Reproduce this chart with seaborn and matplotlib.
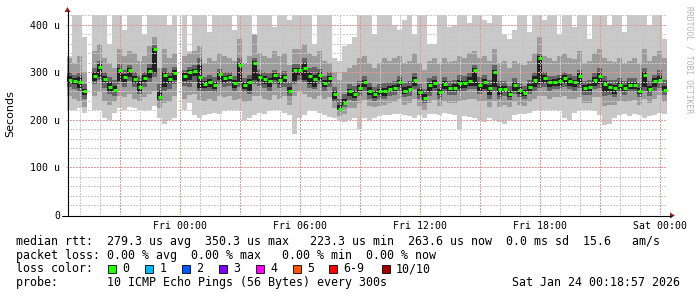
import numpy as np
import pandas as pd
import matplotlib
matplotlib.use("Agg")
import matplotlib.pyplot as plt
import seaborn as sns
from matplotlib.lines import Line2D
from matplotlib.patches import Polygon, Rectangle
from matplotlib.ticker import FixedLocator, FuncFormatter

nan = np.nan

# ---------------- data (microseconds, one sample per 15 min) ----------------
START_H = -5.65   # hours relative to Fri 00:00
STEP_H = 0.25

med = [285, 283, 280, 260, nan, 293, 312, 287, 270, 263,
       305, 290, 305, 287, 270, 288, 303, 350, 248, 295,
       287, 299, nan, 292, 300, 303, 290, 275, 280, 273,
       296, 288, 290, 277, 315, 273, 280, 320, 291, 287,
       282, 294, 285, 290, 262, 305, 306, 310, 292, 287,
       295, 278, 288, 254, 224, 236, 261, 255, 268, 281,
       262, 254, 260, 260, 266, 268, 280, 262, 266, 285,
       259, 247, 273, 278, 259, 276, 267, 268, 278, 277,
       283, 305, 274, 279, 267, 300, 266, 266, 255, 274,
       264, 257, 270, 285, 330, 288, 279, 280, 282, 289,
       283, 279, 293, 268, 270, 285, 292, 275, 270, 268,
       273, 268, 274, 274, 262, 295, 266, 282, 285, 264]

lo4 = [278, 275, 268, 252, nan, 283, 290, 280, 262, 258,
       282, 280, 290, 278, 262, 280, 288, 298, 244, 270,
       278, 285, nan, 282, 285, 292, 268, 268, 270, 266,
       285, 278, 282, 268, 280, 265, 262, 285, 282, 276,
       270, 284, 276, 280, 256, 282, 295, 285, 275, 270,
       285, 270, 278, 245, 222, 232, 250, 246, 258, 270,
       252, 246, 252, 250, 258, 260, 270, 255, 258, 272,
       252, 242, 258, 268, 252, 266, 260, 260, 266, 268,
       272, 272, 262, 266, 252, 270, 252, 258, 248, 262,
       255, 250, 262, 270, 275, 278, 270, 272, 272, 278,
       272, 270, 275, 260, 260, 272, 275, 258, 260, 255,
       265, 260, 266, 265, 255, 270, 258, 270, 278, 258]

hi4 = [292, 288, 290, 266, nan, 300, 318, 292, 280, 272,
       310, 296, 310, 292, 282, 294, 310, 352, 262, 300,
       292, 305, nan, 298, 305, 308, 315, 282, 286, 280,
       300, 292, 295, 284, 320, 280, 286, 325, 296, 292,
       288, 298, 290, 295, 270, 310, 310, 320, 300, 295,
       300, 284, 292, 262, 232, 245, 266, 262, 274, 285,
       270, 260, 266, 268, 272, 274, 285, 270, 272, 290,
       266, 255, 278, 284, 266, 282, 272, 276, 284, 282,
       290, 310, 280, 286, 274, 306, 272, 272, 262, 280,
       270, 264, 276, 292, 335, 294, 284, 286, 288, 294,
       288, 284, 298, 274, 276, 290, 298, 282, 276, 274,
       280, 274, 280, 280, 268, 300, 272, 288, 292, 272]

lo3 = [270, 265, 262, 245, nan, 275, 285, 268, 255, 250,
       275, 270, 282, 270, 255, 270, 280, 290, 240, 262,
       265, 275, nan, 272, 270, 280, 262, 258, 262, 258,
       275, 270, 272, 262, 270, 258, 255, 275, 272, 268,
       262, 275, 268, 270, 250, 275, 285, 280, 268, 265,
       275, 262, 270, 238, 218, 228, 242, 240, 250, 262,
       245, 240, 245, 245, 250, 252, 262, 248, 250, 265,
       245, 235, 250, 260, 245, 258, 252, 252, 258, 260,
       265, 265, 255, 258, 245, 262, 245, 250, 242, 255,
       248, 245, 255, 262, 268, 270, 262, 265, 265, 270,
       265, 262, 268, 252, 252, 265, 268, 250, 252, 248,
       258, 252, 258, 258, 248, 262, 250, 262, 268, 252]

hi3 = [300, 295, 298, 275, nan, 310, 325, 300, 290, 285,
       318, 305, 315, 300, 292, 302, 318, 358, 275, 310,
       300, 312, nan, 305, 312, 315, 330, 290, 295, 290,
       308, 300, 302, 292, 330, 288, 295, 330, 305, 300,
       298, 305, 298, 303, 280, 318, 318, 330, 310, 312,
       308, 292, 300, 270, 245, 255, 275, 272, 282, 292,
       280, 270, 275, 278, 280, 282, 292, 278, 282, 298,
       275, 265, 288, 292, 275, 290, 282, 285, 295, 292,
       298, 315, 290, 295, 285, 315, 282, 282, 272, 288,
       278, 272, 285, 300, 340, 300, 292, 292, 295, 300,
       296, 292, 305, 282, 285, 298, 310, 292, 285, 285,
       288, 282, 288, 288, 278, 310, 282, 295, 305, 285]

lo2 = [250, 245, 240, 228, nan, 250, 258, 240, 232, 238,
       250, 248, 255, 245, 240, 248, 255, 262, 225, 235,
       238, 250, nan, 245, 252, 255, 242, 240, 245, 240,
       250, 248, 250, 242, 245, 238, 240, 250, 250, 245,
       242, 252, 245, 250, 232, 250, 258, 255, 248, 245,
       250, 245, 248, 225, 208, 212, 225, 225, 235, 242,
       230, 228, 230, 232, 235, 238, 245, 232, 235, 245,
       230, 222, 235, 242, 230, 240, 235, 236, 240, 242,
       245, 245, 238, 240, 228, 240, 228, 232, 228, 238,
       232, 230, 238, 245, 250, 250, 245, 248, 248, 250,
       245, 245, 248, 235, 235, 248, 248, 230, 232, 232,
       240, 238, 240, 242, 232, 245, 235, 245, 252, 238]

hi2 = [330, 320, 335, 300, nan, 345, 360, 330, 320, 310,
       350, 335, 345, 340, 325, 335, 355, 375, 310, 350,
       330, 340, nan, 335, 340, 345, 355, 320, 330, 325,
       340, 335, 330, 325, 370, 320, 335, 380, 340, 335,
       330, 345, 335, 340, 315, 350, 350, 360, 340, 335,
       345, 325, 320, 300, 285, 300, 310, 315, 330, 335,
       320, 310, 320, 330, 325, 330, 335, 320, 325, 340,
       320, 305, 325, 330, 318, 330, 322, 325, 335, 330,
       340, 345, 330, 335, 325, 350, 320, 325, 310, 325,
       320, 315, 325, 340, 375, 335, 330, 325, 335, 340,
       330, 328, 345, 320, 325, 340, 350, 330, 325, 322,
       330, 320, 325, 330, 318, 350, 325, 335, 345, 330]

lo1 = [220, 222, 225, 215, nan, 222, 220, 205, 200, 215,
       225, 222, 228, 225, 220, 218, 222, 230, 205, 192,
       200, 205, nan, 220, 235, 210, 205, 210, 212, 215,
       213, 218, 220, 222, 220, 200, 205, 210, 215, 213,
       218, 222, 220, 215, 210, 170, 205, 210, 220, 218,
       215, 210, 207, 205, 198, 195, 200, 205, 180, 205,
       200, 205, 208, 210, 210, 212, 213, 210, 208, 205,
       210, 205, 212, 213, 210, 215, 212, 210, 178, 208,
       206, 205, 200, 195, 205, 200, 195, 192, 200, 210,
       213, 212, 215, 218, 220, 222, 222, 220, 218, 205,
       200, 215, 218, 220, 220, 218, 210, 190, 192, 205,
       210, 212, 208, 212, 210, 205, 208, 210, 215, 212]

hi1 = [335, 425, 425, 375, nan, 425, 425, 425, 360, 425,
       425, 390, 425, 425, 425, 380, 425, 425, 425, 425,
       400, 425, nan, 425, 345, 425, 425, 425, 385, 425,
       425, 425, 425, 390, 425, 425, 425, 370, 425, 425,
       425, 395, 425, 425, 410, 425, 425, 425, 425, 360,
       425, 425, 425, 330, 325, 355, 360, 375, 425, 425,
       425, 380, 425, 425, 425, 400, 390, 410, 425, 380,
       425, 425, 360, 360, 425, 425, 395, 400, 425, 425,
       405, 425, 425, 410, 405, 425, 425, 380, 370, 390,
       425, 425, 385, 425, 425, 410, 425, 425, 380, 425,
       425, 395, 425, 425, 370, 425, 425, 425, 400, 425,
       425, 385, 425, 425, 425, 425, 400, 425, 425, 370]

y_ticks = [0, 100, 200, 300, 400]
y_labels = ["0", "100 u", "200 u", "300 u", "400 u"]
x_ticks = [0, 6, 12, 18, 24]
x_labels = ["Fri 00:00", "Fri 06:00", "Fri 12:00", "Fri 18:00", "Sat 00:00"]

loss_labels = ["0", "1", "2", "3", "4", "5", "6-9", "10/10"]
loss_colors = ["#26ff00", "#00b8ff", "#0059ff", "#7e00ff", "#ff00ff",
               "#ff5500", "#ff0000", "#a10000"]

line1 = "median rtt:  279.3 us avg  350.3 us max   223.3 us min  263.6 us now  0.0 ms sd  15.6   am/s"
line2 = "packet loss: 0.00 % avg  0.00 % max   0.00 % min  0.00 % now"
line3 = "loss color:"
line4a = "probe:       10 ICMP Echo Pings (56 Bytes) every 300s"
line4b = "Sat Jan 24 00:18:57 2026"

# ---------------- figure ----------------
sns.set_theme(style="white")
plt.rcParams["font.family"] = ["DejaVu Sans"]
plt.rcParams["lines.scale_dashes"] = False

W, H = 697, 297
PX = 72.0 / 100  # one pixel in points
fig = plt.figure(figsize=(W / 100, H / 100), dpi=100)
fig.patch.set_facecolor("white")
ax = fig.add_axes([67 / W, (H - 215) / H, 600 / W, 200 / H])
ax.set_facecolor("white")

n = len(med)
df = pd.DataFrame({
    "t": START_H + STEP_H * np.arange(n),
    "med": med, "lo1": lo1, "hi1": hi1, "lo2": lo2, "hi2": hi2,
    "lo3": lo3, "hi3": hi3, "lo4": lo4, "hi4": hi4,
})
df["tc"] = df["t"] + STEP_H / 2

for lo, hi, col in [("lo1", "hi1", "#c8c8c8"), ("lo2", "hi2", "#9c9c9c"),
                    ("lo3", "hi3", "#646464"), ("lo4", "hi4", "#202020")]:
    d = df.dropna(subset=[lo, hi])
    ax.bar(d["t"], d[hi] - d[lo], bottom=d[lo], width=STEP_H, align="edge",
           color=col, linewidth=0, antialiased=False, zorder=1)

sns.scatterplot(data=df.dropna(subset=["med"]), x="tc", y="med", marker="_",
                s=11, color="#26ff00", linewidth=2.2, ax=ax, zorder=5,
                legend=False)

ax.set_xlim(START_H, START_H + 30)
ax.set_ylim(0, 421)
for s in ax.spines.values():
    s.set_visible(False)

# grid: small dots drawn over the smoke
ax.yaxis.set_major_locator(FixedLocator(y_ticks))
ax.yaxis.set_minor_locator(FixedLocator(np.arange(0, 421, 20)))
ax.xaxis.set_major_locator(FixedLocator(np.arange(-3, 25, 3)))
ax.xaxis.set_minor_locator(FixedLocator(np.arange(-5, 25, 1)))
ax.set_axisbelow(False)
dots = (0, (1.3 * PX, 1.3 * PX))
ax.grid(which="minor", color="#cccccc", linestyle=dots, linewidth=PX,
        antialiased=False, zorder=3)
ax.grid(which="major", color="#e09a9a", linestyle=dots, linewidth=PX,
        antialiased=False, zorder=3)

ax.set_yticklabels(y_labels)
xl = dict(zip(x_ticks, x_labels))
ax.xaxis.set_major_formatter(FuncFormatter(lambda v, p: xl.get(int(round(v)), "") if abs(v - round(v)) < 1e-6 else ""))
ax.tick_params(axis="both", which="both", length=0)
ax.tick_params(axis="y", pad=5)
ax.tick_params(axis="x", pad=4)
for lab in ax.get_xticklabels() + ax.get_yticklabels():
    lab.set_fontfamily("DejaVu Sans Mono")
    lab.set_fontsize(7.1)
    lab.set_color("black")
ax.set_xlabel("")
ax.set_ylabel("")

def fx(x):
    return x / W

def fy(y):
    return 1 - y / H

# axis lines with arrows
fig.add_artist(Line2D([fx(67.5), fx(67.5)], [fy(215), fy(11)], color="black", lw=0.8))
fig.add_artist(Line2D([fx(62), fx(671)], [fy(215.5), fy(215.5)], color="black", lw=0.8))
fig.add_artist(Polygon([(fx(64.5), fy(12)), (fx(70.5), fy(12)), (fx(67.5), fy(7))],
                       closed=True, color="#9c2020", lw=0))
fig.add_artist(Polygon([(fx(670), fy(212.5)), (fx(670), fy(218.5)), (fx(675), fy(215.5))],
                       closed=True, color="#9c2020", lw=0))

fig.text(fx(10), fy(114), "Seconds", rotation=90, ha="center", va="center",
         fontsize=8, family="DejaVu Sans", color="black")
fig.text(fx(689), fy(60), "RRDTOOL / TOBI OETIKER", rotation=270, ha="center",
         va="center", fontsize=5.8, family="DejaVu Sans Mono", color="#b4b4b4")

mono = dict(family="DejaVu Sans Mono", fontsize=8.4, color="black", va="center")
fig.text(fx(16), fy(241.5), line1, ha="left", **mono)
fig.text(fx(16), fy(255), line2, ha="left", **mono)
fig.text(fx(16), fy(269), line3, ha="left", **mono)
fig.text(fx(16), fy(282.5), line4a, ha="left", **mono)
fig.text(fx(680), fy(282.5), line4b, ha="right", **mono)

sq_x = [108, 145, 182, 219, 256, 292.5, 329, 381.5]
for x0, lab, col in zip(sq_x, loss_labels, loss_colors):
    fig.add_artist(Rectangle((fx(x0), fy(273)), 8 / W, 8 / H, facecolor=col,
                             edgecolor="black", lw=0.6))
    fig.text(fx(x0 + 14.5), fy(269), lab, ha="left", **mono)

fig.savefig("out.png", dpi=100, facecolor="white")
